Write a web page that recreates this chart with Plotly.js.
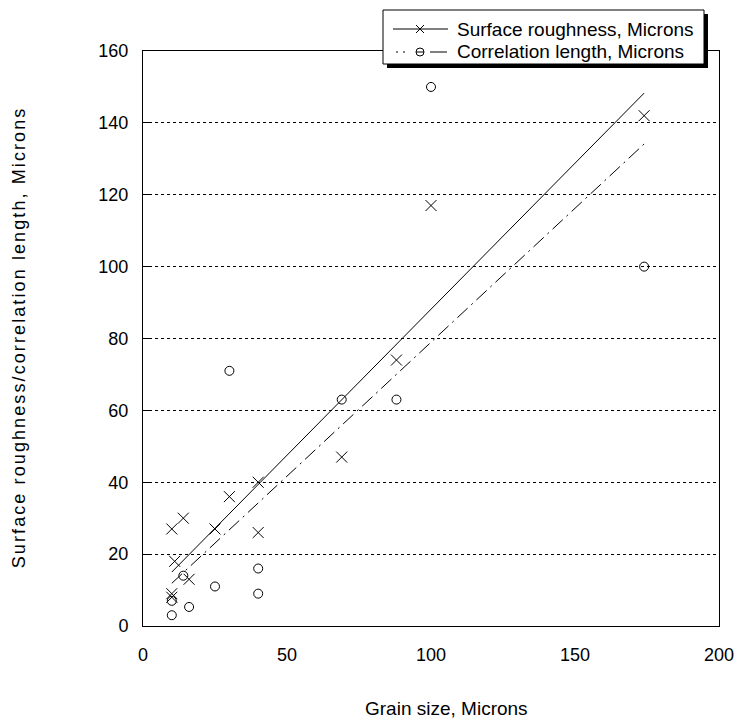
<!DOCTYPE html>
<html>
<head>
<meta charset="utf-8">
<script src="https://cdn.plot.ly/plotly-3.0.1.min.js"></script>
<style>
  html, body { margin: 0; padding: 0; background: #ffffff; }
  #chart { width: 737px; height: 726px; }
</style>
</head>
<body>
<div id="chart"></div>
<script>
// Grain size vs. surface roughness and correlation length (all in microns)
const roughGrain = [10, 14, 11, 16, 10, 10, 25, 30, 40, 40, 69, 88, 100, 174];
const roughness  = [27, 30, 18, 13, 9, 8, 27, 36, 40, 26, 47, 74, 117, 142];

const corrGrain  = [10, 10, 14, 16, 25, 40, 40, 30, 69, 88, 100, 174];
const corrLength = [3, 7, 14, 5.3, 11, 16, 9, 71, 63, 63, 150, 100];

const legendLabels = ['Surface roughness, Microns', 'Correlation length, Microns'];
const xTitle = 'Grain size, Microns';
const yTitle = 'Surface roughness/correlation length, Microns';

// Least-squares straight line through a set of points, spanning min..max of x
function fitLine(xs, ys) {
  const n = xs.length;
  const mx = xs.reduce((a, b) => a + b, 0) / n;
  const my = ys.reduce((a, b) => a + b, 0) / n;
  let sxy = 0, sxx = 0;
  for (let i = 0; i < n; i++) {
    sxy += (xs[i] - mx) * (ys[i] - my);
    sxx += (xs[i] - mx) * (xs[i] - mx);
  }
  const b = sxy / sxx, a = my - b * mx;
  const x0 = Math.min(...xs), x1 = Math.max(...xs);
  return { x: [x0, x1], y: [a + b * x0, a + b * x1] };
}

const roughFit = fitLine(roughGrain, roughness);
const corrFit = fitLine(corrGrain, corrLength);

const W = 737, H = 726;
const M = { l: 143, r: 18, t: 51, b: 100 };
const PW = W - M.l - M.r, PH = H - M.t - M.b;
// pixel -> paper helpers for the hand-drawn legend and titles
const px = v => (v - M.l) / PW;
const py = v => (H - M.b - v) / PH;

const FONT = 'Liberation Sans, Arial, Helvetica, sans-serif';

const traces = [
  {
    x: roughFit.x, y: roughFit.y, mode: 'lines', type: 'scatter',
    line: { color: '#000', width: 1 }, hoverinfo: 'skip', showlegend: false
  },
  {
    x: corrFit.x, y: corrFit.y, mode: 'lines', type: 'scatter',
    line: { color: '#000', width: 1, dash: '14px,5px,2px,5px' }, hoverinfo: 'skip', showlegend: false
  },
  {
    x: roughGrain, y: roughness, mode: 'markers', type: 'scatter', name: legendLabels[0],
    marker: { symbol: 'x-thin-open', size: 11, color: '#000', line: { color: '#000', width: 1 } },
    showlegend: false
  },
  {
    x: corrGrain, y: corrLength, mode: 'markers', type: 'scatter', name: legendLabels[1],
    marker: { symbol: 'circle-open', size: 9, color: '#000', line: { color: '#000', width: 1 } },
    showlegend: false
  }
];

// Legend box with drop shadow, drawn in pixel terms
const LB = { x0: 383, x1: 704, y0: 10, y1: 64 };
const row1 = 29, row2 = 52;
const shapes = [
  { type: 'rect', xref: 'paper', yref: 'paper', layer: 'above',
    x0: px(LB.x0 + 4), x1: px(LB.x1 + 4), y0: py(LB.y1 + 4), y1: py(LB.y0 + 4),
    fillcolor: '#000', line: { width: 0 } },
  { type: 'rect', xref: 'paper', yref: 'paper', layer: 'above',
    x0: px(LB.x0), x1: px(LB.x1), y0: py(LB.y1), y1: py(LB.y0),
    fillcolor: '#fff', line: { color: '#000', width: 1 } },
  // roughness sample: solid line with an x
  { type: 'line', xref: 'paper', yref: 'paper', layer: 'above',
    x0: px(393), x1: px(448), y0: py(row1), y1: py(row1), line: { color: '#000', width: 1 } },
  { type: 'line', xref: 'paper', yref: 'paper', layer: 'above',
    x0: px(416), x1: px(424), y0: py(row1 - 4), y1: py(row1 + 4), line: { color: '#000', width: 1 } },
  { type: 'line', xref: 'paper', yref: 'paper', layer: 'above',
    x0: px(416), x1: px(424), y0: py(row1 + 4), y1: py(row1 - 4), line: { color: '#000', width: 1 } },
  // correlation sample: dots, circle, dash
  { type: 'line', xref: 'paper', yref: 'paper', layer: 'above',
    x0: px(396), x1: px(398), y0: py(row2), y1: py(row2), line: { color: '#000', width: 1 } },
  { type: 'line', xref: 'paper', yref: 'paper', layer: 'above',
    x0: px(403), x1: px(405), y0: py(row2), y1: py(row2), line: { color: '#000', width: 1 } },
  { type: 'circle', xref: 'paper', yref: 'paper', layer: 'above',
    x0: px(416), x1: px(424), y0: py(row2 + 4), y1: py(row2 - 4), line: { color: '#000', width: 1 } },
  { type: 'line', xref: 'paper', yref: 'paper', layer: 'above',
    x0: px(416), x1: px(424), y0: py(row2), y1: py(row2), line: { color: '#000', width: 1 } },
  { type: 'line', xref: 'paper', yref: 'paper', layer: 'above',
    x0: px(430), x1: px(447), y0: py(row2), y1: py(row2), line: { color: '#000', width: 1 } }
];

const annotations = [
  { xref: 'paper', yref: 'paper', x: px(455), y: py(row1), xanchor: 'left', yanchor: 'middle',
    text: legendLabels[0], showarrow: false, font: { family: FONT, size: 19, color: '#000' } },
  { xref: 'paper', yref: 'paper', x: px(455), y: py(row2), xanchor: 'left', yanchor: 'middle',
    text: legendLabels[1], showarrow: false, font: { family: FONT, size: 19, color: '#000' } },
  { xref: 'paper', yref: 'paper', x: px(446), y: py(709), xanchor: 'center', yanchor: 'middle',
    text: xTitle, showarrow: false, font: { family: FONT, size: 19, color: '#000' } },
  { xref: 'paper', yref: 'paper', x: px(19), y: py(338), xanchor: 'center', yanchor: 'middle',
    textangle: -90, text: yTitle, showarrow: false, font: { family: FONT, size: 18, color: '#000' } }
];

const layout = {
  width: W, height: H,
  margin: M,
  paper_bgcolor: '#fff', plot_bgcolor: '#fff',
  font: { family: FONT, size: 18, color: '#000' },
  showlegend: false,
  xaxis: {
    range: [0, 200], tickvals: [0, 50, 100, 150, 200],
    showgrid: false, zeroline: false,
    showline: true, mirror: true, linecolor: '#000', linewidth: 1,
    ticks: '', ticklabelstandoff: 12,
    tickfont: { family: FONT, size: 18, color: '#000' }
  },
  yaxis: {
    range: [0, 160], tickvals: [0, 20, 40, 60, 80, 100, 120, 140, 160],
    showgrid: true, gridcolor: '#000', gridwidth: 1, griddash: '3px,3px',
    zeroline: false,
    showline: true, mirror: true, linecolor: '#000', linewidth: 1,
    ticks: 'inside', ticklen: 6, tickcolor: '#000', tickwidth: 1,
    ticklabelstandoff: 10,
    tickfont: { family: FONT, size: 18, color: '#000' }
  },
  shapes: shapes,
  annotations: annotations
};

Plotly.newPlot('chart', traces, layout, { displayModeBar: false, staticPlot: true }).then(gd => {
  // the vertical title is set with wider letter spacing
  gd.querySelectorAll('.annotation-text').forEach(t => {
    if (t.textContent === yTitle) t.style.letterSpacing = '2.1px';
  });
});
</script>
</body>
</html>
